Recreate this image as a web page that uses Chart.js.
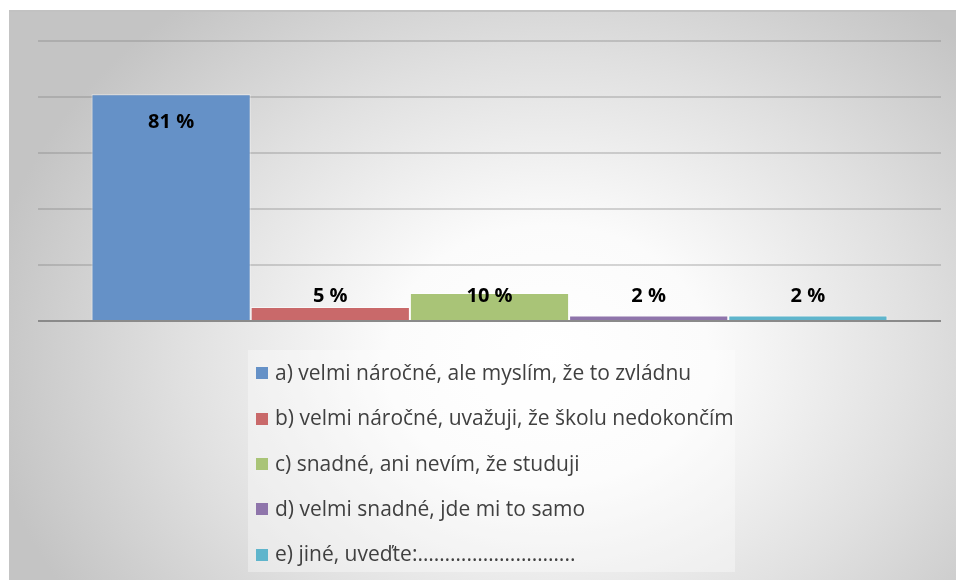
<!DOCTYPE html>
<html>
<head>
<meta charset="utf-8">
<script src="https://cdn.jsdelivr.net/npm/chart.js@4/dist/chart.umd.min.js"></script>
<style>
  html, body { margin:0; padding:0; background:#ffffff; width:956px; height:580px; overflow:hidden; }
  #panel {
    position:absolute; left:9px; top:10px; width:947px; height:570px;
    border-top:2px solid #c2c2c2; box-sizing:border-box;
    background: radial-gradient(ellipse 60% 80% at 57% 60%, #ffffff 0%, #fbfbfb 28%, #e0e0e0 65%, #c4c4c4 100%);
  }
  #wrap { position:absolute; left:0; top:0; width:956px; height:580px; }
  #legend {
    position:absolute; left:248px; top:350px; width:487px; height:222px;
    background: rgba(255,255,255,0.35);
    font-family: "Open Sans", "Noto Sans", sans-serif; font-size:21px; color:#404040;
  }
  .item { position:absolute; left:8px; height:26px; line-height:26px; white-space:nowrap; }
  .sw { display:inline-block; width:12px; height:12px; margin-right:7px; vertical-align:middle; position:relative; top:-1px; }
</style>
</head>
<body>
<div id="panel"></div>
<div id="wrap"><canvas id="c" width="956" height="580"></canvas></div>
<div id="legend"></div>
<script>
const categories = ["a) velmi náročné, ale myslím, že to zvládnu",
                    "b) velmi náročné, uvažuji, že školu nedokončím",
                    "c) snadné, ani nevím, že studuji",
                    "d) velmi snadné, jde mi to samo",
                    "e) jiné, uveďte:……………………….."];
const values = [81, 5, 10, 2, 2];
const colors = ["#6591c7", "#c9696a", "#a9c477", "#8f75ab", "#5fb5cc"];
const yTicks = [0, 20, 40, 60, 80, 100];
const smallLabelLevel = 9;

const datasets = categories.map((name, i) => ({
  label: name,
  data: [values[i]],
  backgroundColor: colors[i],
  borderColor: "rgba(255,255,255,0.55)",
  borderWidth: 1,
  categoryPercentage: 0.8815,
  barPercentage: 1.0
}));

const labelPlugin = {
  id: "barLabels",
  afterDatasetsDraw(chart) {
    const ctx = chart.ctx;
    const yScale = chart.scales.y;
    ctx.save();
    ctx.font = "bold 20px 'Open Sans', 'Noto Sans', sans-serif";
    ctx.fillStyle = "#000000";
    ctx.textAlign = "center";
    ctx.textBaseline = "middle";
    chart.data.datasets.forEach((ds, i) => {
      const bar = chart.getDatasetMeta(i).data[0];
      const v = ds.data[0];
      let y;
      if (v > 50) y = bar.y + 28;
      else y = yScale.getPixelForValue(smallLabelLevel);
      ctx.fillText(v + " %", bar.x, y);
    });
    ctx.restore();
  }
};

const chart = new Chart(document.getElementById("c"), {
  type: "bar",
  data: { labels: [""], datasets },
  options: {
    responsive: false,
    animation: false,
    layout: { padding: { left: 38, right: 15, top: 41, bottom: 259 } },
    plugins: { legend: { display: false }, tooltip: { enabled: false } },
    scales: {
      x: { display: false },
      y: {
        min: 0, max: 100,
        afterBuildTicks(scale) { scale.ticks = yTicks.map(v => ({ value: v })); },
        afterFit(scale) { scale.width = 0; },
        ticks: { display: false },
        border: { display: false },
        grid: {
          drawTicks: false,
          color: ctx => ctx.tick.value === 0 ? "#8a8a8a" : "rgba(120,120,120,0.3)",
          lineWidth: 2
        }
      }
    }
  },
  plugins: [labelPlugin]
});

const legend = document.getElementById("legend");
chart.data.datasets.forEach((ds, i) => {
  const d = document.createElement("div");
  d.className = "item";
  d.style.top = (9 + i * 45.3) + "px";
  const sw = document.createElement("span");
  sw.className = "sw";
  sw.style.background = ds.backgroundColor;
  d.appendChild(sw);
  d.appendChild(document.createTextNode(ds.label));
  legend.appendChild(d);
});
</script>
</body>
</html>
